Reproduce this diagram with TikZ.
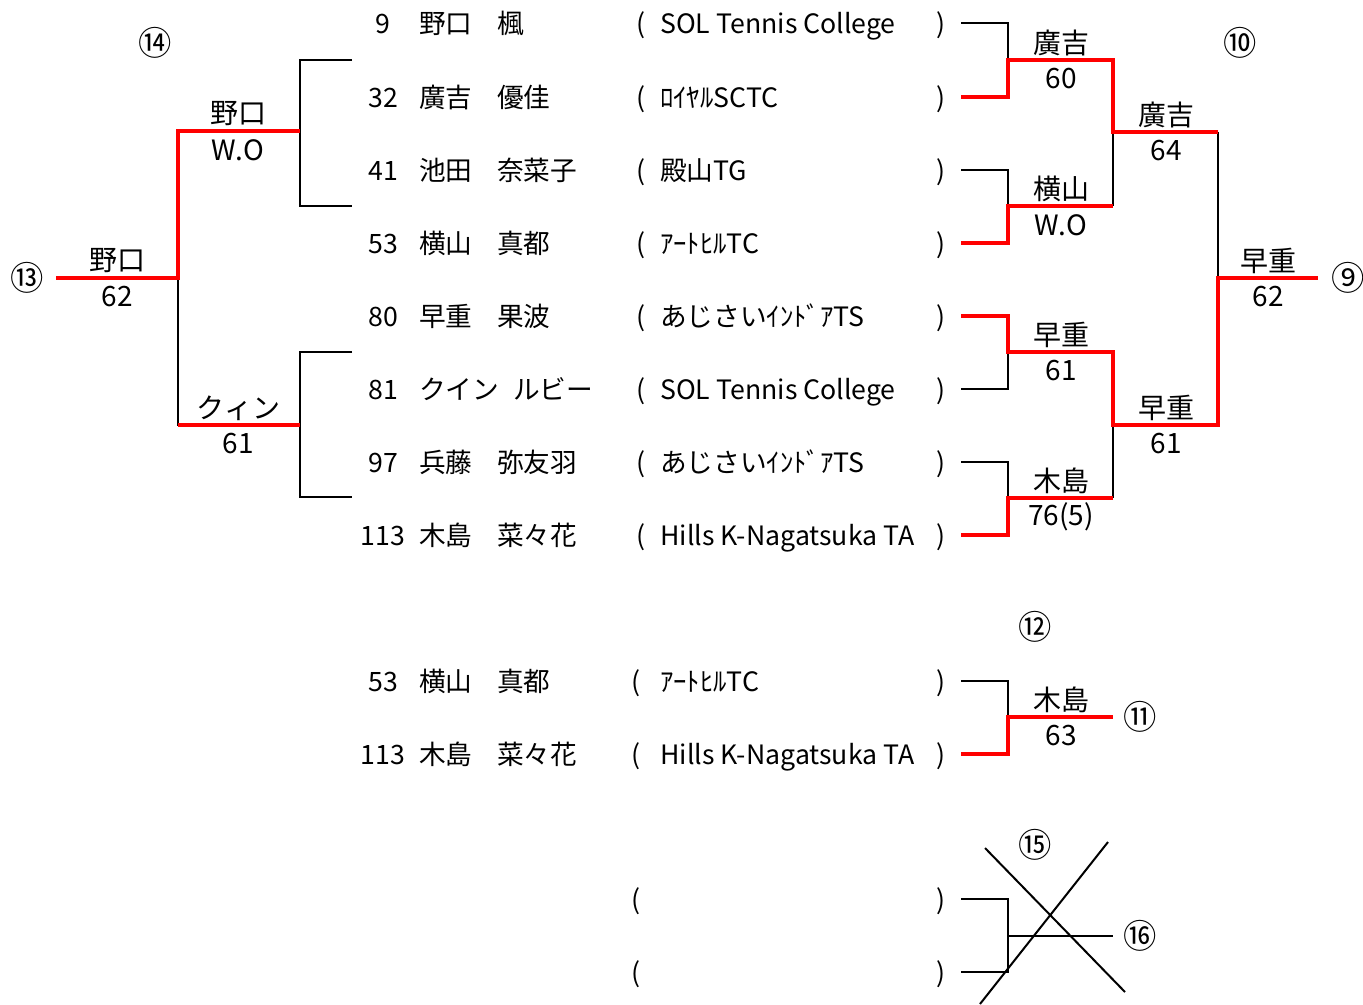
\documentclass[tikz,border=0pt]{standalone}
\usepackage{fontspec}
\setmainfont{Noto Sans CJK JP}
\usetikzlibrary{positioning}
\tikzset{
  lose/.style={draw=black, line width=1.9pt},
  win/.style={draw=red, line width=3.6pt},
  cross/.style={draw=black, line width=1.5pt},
  rowtxt/.style={inner sep=0pt, font=\fontsize{20pt}{22pt}\selectfont, yshift=-7.5pt},
  restxt/.style={inner sep=0pt, font=\fontsize{21pt}{23pt}\selectfont},
  circnum/.style={inner sep=0pt, font=\fontsize{25pt}{26pt}\selectfont},
}
\begin{document}
\begin{tikzpicture}[x=0.75pt, y=-0.75pt]
\useasboundingbox (0,0) rectangle (1363,1004);

% players
\foreach \i/\y/\no/\sei/\mx/\mei/\px/\club in {
    1/23/9/野口/497/楓/641/SOL Tennis College,
    2/97/32/廣吉/497/優佳/641/ﾛｲﾔﾙSCTC,
    3/170/41/池田/497/奈菜子/641/殿山TG,
    4/243/53/横山/497/真都/641/ｱｰﾄﾋﾙTC,
    5/316/80/早重/497/果波/641/あじさいｲﾝﾄﾞｱTS,
    6/389/81/クイン/513/ルビー/641/SOL Tennis College,
    7/462/97/兵藤/497/弥友羽/641/あじさいｲﾝﾄﾞｱTS,
    8/535/113/木島/497/菜々花/641/Hills K-Nagatsuka TA,
    9/681/53/横山/497/真都/636/ｱｰﾄﾋﾙTC,
    10/754/113/木島/497/菜々花/636/Hills K-Nagatsuka TA}{
  \node[rowtxt, anchor=base] (no\i) at (383,\y) {\no};
  \node[rowtxt, anchor=base west] (sei\i) at (419,\y) {\sei};
  \node[rowtxt, anchor=base west] (mei\i) at (\mx,\y) {\mei};
  \node[rowtxt, anchor=base] (lp\i) at (\px,\y) {(};
  \node[rowtxt, anchor=base west] (club\i) at (660,\y) {\club};
  \node[rowtxt, anchor=base] (rp\i) at (941,\y) {)};
  \coordinate (r\i) at (961,\y);
}
\foreach \i/\y in {11/899, 12/972}{
  \node[rowtxt, anchor=base] (lp\i) at (636,\y) {(};
  \node[rowtxt, anchor=base] (rp\i) at (941,\y) {)};
  \coordinate (r\i) at (961,\y);
}

% left side
\coordinate (la) at (352,60);
\coordinate (lb) at (352,206);
\coordinate (lc) at (352,352);
\coordinate (ld) at (352,497);
\coordinate (ma) at (300,131);
\coordinate (mb) at (300,425);
\coordinate (mc) at (178,278);
\coordinate (out13) at (56,278);
\draw[lose] (la) -| (ma) |- (lb);
\draw[lose] (lc) -| (mb) |- (ld);
\draw[lose] (mc) |- (mb);
\draw[win] (ma) -| (mc) -- (out13);
\draw[win] (mb) -- (mb -| mc);

% right side
\coordinate (q1) at (1008,60);
\coordinate (q2) at (1008,206);
\coordinate (q3) at (1008,352);
\coordinate (q4) at (1008,498);
\coordinate (t1) at (1113,132);
\coordinate (t2) at (1113,425);
\coordinate (u) at (1218,278);
\coordinate (out9) at (1318,278);
\draw[lose] (r1) -| (q1);
\draw[lose] (r3) -| (q2);
\draw[lose] (r6) -| (q3);
\draw[lose] (r7) -| (q4);
\draw[lose] (t1) -- (t1 |- q2);
\draw[lose] (t2) -- (t2 |- q4);
\draw[lose] (t1 -| u) -- (u);
\draw[win] (r2) -| (q1) -| (t1) -- (t1 -| u);
\draw[win] (r4) -| (q2) -- (q2 -| t1);
\draw[win] (r5) -| (q3) -| (t2) -| (u) -- (out9);
\draw[win] (r8) -| (q4) -- (q4 -| t2);

% bottom
\coordinate (q5) at (1008,717);
\coordinate (t5) at (1113,717);
\coordinate (q6) at (1008,936);
\coordinate (t6) at (1113,936);
\draw[lose] (r9) -| (q5);
\draw[win] (r10) -| (q5) -- (t5);
\draw[lose] (r11) -| (q6) |- (r12);
\draw[lose] (q6) -- (t6);
\coordinate (x1) at (985,848);
\coordinate (x2) at (1125,992);
\coordinate (x3) at (1108,842);
\coordinate (x4) at (980,1004);
\draw[cross] (x1) -- (x2);
\draw[cross] (x3) -- (x4);

% results
\foreach \i/\x/\y/\w/\s in {a/238/131/野口/W.O, b/238/425/クィン/61, c/117/278/野口/62,
    d/1061/60/廣吉/60, e/1061/206/横山/W.O, f/1061/352/早重/61, g/1061/498/木島/76(5),
    h/1166/132/廣吉/64, i/1166/425/早重/61, j/1268/278/早重/62, k/1061/717/木島/63}{
  \node[restxt] (w\i) at (\x,\y-17) {\w};
  \node[restxt] (s\i) at (\x,\y+19) {\s};
}

% match numbers
\foreach \i/\x/\y/\c in {13/27/278/⑬, 14/155/43/⑭, 10/1240/43/⑩, 9/1348/278/⑨,
    12/1035/627/⑫, 11/1140/717/⑪, 15/1035/845/⑮, 16/1140/936/⑯}{
  \node[circnum] (c\i) at (\x,\y) {\c};
}
\end{tikzpicture}
\end{document}
